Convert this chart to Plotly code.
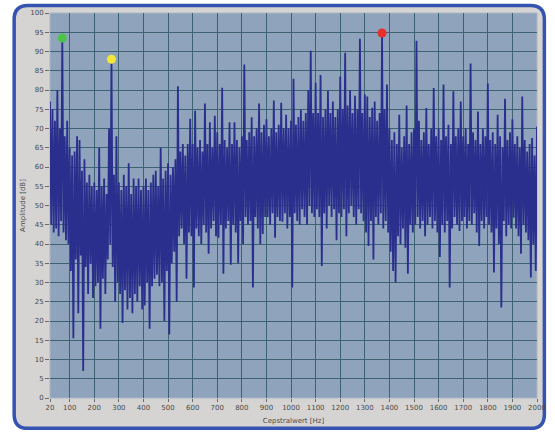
import plotly.graph_objects as go

# Cepstrum amplitude, read per 10 Hz bin.
# peak_db: local maxima at 20, 30, ..., 2000 Hz
# dip_db:  local minima at 25, 35, ..., 1995 Hz
peak_db = [
    77, 75, 72, 80, 70, 93.5, 68, 72,                          # 20-90
    65, 63, 64, 68, 67, 59, 62, 56, 58, 55,                    # 100-190
    56, 54, 65, 55, 57, 53, 70, 88, 58, 68,                    # 200-290
    56, 54, 58, 55, 61, 53, 57, 55, 57, 54,                    # 300-390
    55, 57, 54, 56, 58, 59, 55, 65, 57, 59,                    # 400-490
    61, 58, 60, 62, 81, 64, 66, 63, 66, 72.5,                  # 500-590
    66, 74.6, 65, 67, 64, 76.5, 66, 71.6, 65, 73.3,            # 600-690
    69, 66, 80.6, 67, 65, 71.6, 66, 71.6, 67, 65,              # 700-790
    68, 86.6, 67, 69, 72.9, 68, 70, 76.5, 69, 71,              # 800-890
    72.4, 68, 70, 77.3, 69, 71, 76.7, 70, 73.6, 70,            # 900-990
    72, 82.9, 71, 73, 74.9, 72, 74, 80, 90.2, 74,              # 1000-1090
    81.9, 74, 83.9, 73, 75, 79.8, 74, 77, 73, 75,              # 1100-1190
    83.5, 75, 89.7, 76, 80, 74, 78.5, 75, 93.3, 74,            # 1200-1290
    78.8, 78.3, 73, 75.4, 77, 72, 74, 94.8, 75, 81.4,          # 1300-1390
    70, 67, 69, 66, 73.6, 65, 68, 76, 66, 69,                  # 1400-1490
    70, 92.8, 72, 67, 69, 75.3, 66, 70, 80.5, 68,              # 1500-1590
    70, 67, 81.4, 68, 71, 66, 79.7, 68, 70, 77,                # 1600-1690
    68, 70, 66, 86.9, 69, 67, 74.4, 66, 70, 68,                # 1700-1790
    81.7, 67, 69, 66, 73.6, 68, 65, 77.7, 67, 69,              # 1800-1890
    72.4, 66, 68, 65, 78.3, 67, 64, 66, 67.5, 63, 70.5,        # 1900-2000
]
dip_db = [
    45, 43, 44, 42, 46, 43, 41, 40,                            # 25-95
    33, 15.5, 36, 22, 37, 7, 34, 27, 35, 26,                   # 105-195
    29, 30, 18, 31, 27, 36, 40, 34, 25, 30,                    # 205-295
    27, 19.5, 28, 23, 26, 22, 27, 25, 29, 23,                  # 305-395
    24, 30, 18, 29, 31, 32, 29, 30, 20, 33,                    # 405-495
    16.5, 35, 38, 25, 42, 44, 40, 31, 43, 42,                  # 505-595
    28.7, 44, 42, 40, 45, 43, 37.5, 44, 46, 42,                # 605-695
    41.6, 45, 32.3, 44, 46, 34.6, 45, 43, 35, 46,              # 705-795
    40, 47, 45, 46, 28.7, 47, 44, 40, 42.6, 47,                # 805-895
    47, 45, 48, 41.6, 47, 46, 45.8, 48, 44, 47,                # 905-995
    28.7, 48, 46, 45, 49, 47, 45, 50, 48, 47,                  # 1005-1095
    49, 47, 34.3, 48, 44, 50, 47, 49, 41, 48,                  # 1105-1195
    47, 49, 42, 48, 50, 47, 45, 49, 48, 46,                    # 1205-1295
    43, 39.5, 46, 36, 47, 45, 48, 44, 46, 43,                  # 1305-1395
    38, 33, 30, 42, 40, 44, 39, 32.3, 45, 43,                  # 1405-1495
    45, 47, 44, 46, 42, 45, 47, 44, 46, 43,                    # 1505-1595
    36.6, 45, 43, 46, 28.7, 44, 47, 45, 43.4, 46,              # 1605-1695
    47, 44, 46, 45, 48, 43, 39.5, 46, 44, 47,                  # 1705-1795
    45, 43, 32.6, 44, 40, 23.5, 46, 42, 45, 44,                # 1805-1895
    46.8, 44, 42, 37.5, 45, 43, 41, 31.3, 40, 33,              # 1905-1995
]
peak_hz = list(range(20, 2001, 10))
dip_hz = list(range(25, 2000, 10))
if len(peak_db) != len(peak_hz) or len(dip_db) != len(dip_hz):
    raise ValueError("bin count mismatch")

# highlighted peaks (frequency in Hz) and their colours
marker_hz = [70, 270, 1370]
marker_colors = ["#4cc24a", "#f4e836", "#e8302a"]

x_tick_vals = [20] + list(range(100, 2001, 100))
y_tick_vals = list(range(0, 101, 5))

# interleave maxima and minima into one trace
freq, amp = [], []
for i, f in enumerate(peak_hz):
    freq.append(f)
    amp.append(peak_db[i])
    if i < len(dip_hz):
        freq.append(dip_hz[i])
        amp.append(dip_db[i])

marker_db = [peak_db[peak_hz.index(f)] for f in marker_hz]

W, H = 555, 432
L, R, T, B = 50, 9, 11, 34
PW, PH = W - L - R, H - T - B


def px(x):
    return (x - L) / PW


def py(y):
    return (H - B - y) / PH


def rounded_rect(x0, y0, x1, y1, r):
    return (
        f"M {px(x0 + r)},{py(y0)} L {px(x1 - r)},{py(y0)} "
        f"Q {px(x1)},{py(y0)} {px(x1)},{py(y0 + r)} "
        f"L {px(x1)},{py(y1 - r)} Q {px(x1)},{py(y1)} {px(x1 - r)},{py(y1)} "
        f"L {px(x0 + r)},{py(y1)} Q {px(x0)},{py(y1)} {px(x0)},{py(y1 - r)} "
        f"L {px(x0)},{py(y0 + r)} Q {px(x0)},{py(y0)} {px(x0 + r)},{py(y0)} Z"
    )


fig = go.Figure()
fig.add_trace(go.Scatter(
    x=freq, y=amp, mode="lines",
    line=dict(color="#2a2e8c", width=1.8),
    hoverinfo="skip", showlegend=False,
))
fig.add_trace(go.Scatter(
    x=marker_hz, y=marker_db, mode="markers",
    marker=dict(color=marker_colors, size=9, line=dict(width=0)),
    showlegend=False,
))

fig.update_layout(
    width=W, height=H,
    margin=dict(l=L, r=R, t=T, b=B),
    paper_bgcolor="white",
    plot_bgcolor="#8fa3bd",
    font=dict(family="DejaVu Sans", size=7, color="#4a4a4a"),
    shapes=[
        dict(type="path", xref="paper", yref="paper", layer="below",
             path=rounded_rect(13.5, 3.5, 553.5, 428.5, 14),
             fillcolor="#d5d4d3", line=dict(color="#3553b0", width=3.5)),
        dict(type="rect", xref="paper", yref="paper", layer="below",
             x0=0, x1=1, y0=0, y1=1,
             fillcolor="#8fa3bd", line=dict(color="#a9b6c6", width=1)),
    ],
    xaxis=dict(
        range=[20, 2000], tickmode="array", tickvals=x_tick_vals,
        ticks="outside", ticklen=3, tickcolor="#6a6a6a",
        showgrid=True, gridcolor="#3d6373", gridwidth=1.2,
        zeroline=False, showline=False,
        title=dict(text="Cepstralwert [Hz]", standoff=6,
                   font=dict(size=7, color="#4a4a4a")),
    ),
    yaxis=dict(
        range=[0, 100], tickmode="array", tickvals=y_tick_vals,
        ticks="outside", ticklen=4, tickcolor="#6a6a6a",
        showgrid=True, gridcolor="#3d6373", gridwidth=1.2,
        zeroline=False, showline=False,
        title=dict(text="Amplitude [dB]", standoff=3,
                   font=dict(size=7, color="#4a4a4a")),
    ),
)

fig.write_html("out.html")
